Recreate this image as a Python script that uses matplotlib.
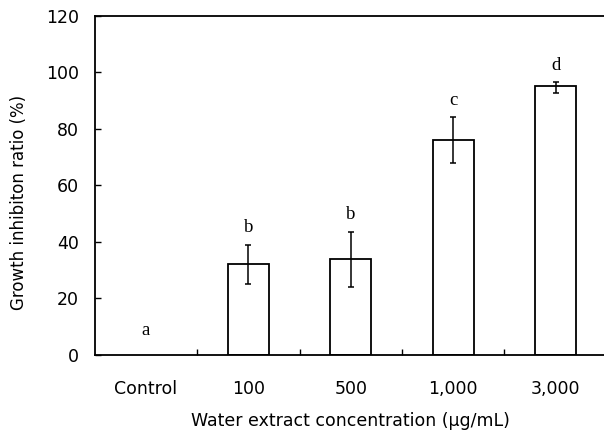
import matplotlib
matplotlib.use("Agg")
import matplotlib.pyplot as plt
import numpy as np

categories = ["Control", "100", "500", "1,000", "3,000"]
values = [0, 32, 34, 76, 95]
err_low = [0, 7, 10, 8, 2.3]
err_high = [0, 7, 9.5, 8, 1.7]
letters = ["a", "b", "b", "c", "d"]
letter_y = [8.7, 45.1, 49.8, 90, 102.5]
yticks = [0, 20, 40, 60, 80, 100, 120]

plt.rcParams['font.family'] = ['DejaVu Sans']
fig = plt.figure(figsize=(6.04, 4.38), dpi=100)
ax = fig.add_axes([94.5/604, (438-354.7)/438, (607-94.5)/604, (354.7-15.7)/438])

x = np.arange(len(categories))
ax.bar(x[1:], values[1:], width=0.40, color='white', edgecolor='black', linewidth=1.3, zorder=2)
ax.errorbar(x[1:], values[1:], yerr=[err_low[1:], err_high[1:]], fmt='none', ecolor='black',
            elinewidth=1.1, capsize=2.5, capthick=1.1, zorder=3)
for xi, t, ty in zip(x, letters, letter_y):
    ax.text(xi, ty, t, ha='center', va='center', fontsize=13.5, family='Liberation Serif')

ax.set_xlim(-0.5, 4.5)
ax.set_ylim(0, 120)
ax.set_yticks(yticks)
ax.set_xticks(x)
ax.set_xticklabels(categories)
ax.set_xticks(x[:-1] + 0.5, minor=True)
ax.tick_params(axis='x', which='major', length=0, pad=18, labelsize=12.5)
ax.tick_params(axis='x', which='minor', direction='in', length=4, width=1)
ax.tick_params(axis='y', direction='in', length=4, width=1, pad=11, labelsize=12.5)
for s in ['left', 'bottom', 'top']:
    ax.spines[s].set_linewidth(1.3)
ax.spines['right'].set_visible(False)

ax.set_xlabel("Water extract concentration (μg/mL)", fontsize=12.5, labelpad=10)
ax.set_ylabel("Growth inhibiton ratio (%)", fontsize=12)
ax.yaxis.set_label_coords(-66.5/512.5, 0.45)

fig.savefig("out.png", dpi=100)
